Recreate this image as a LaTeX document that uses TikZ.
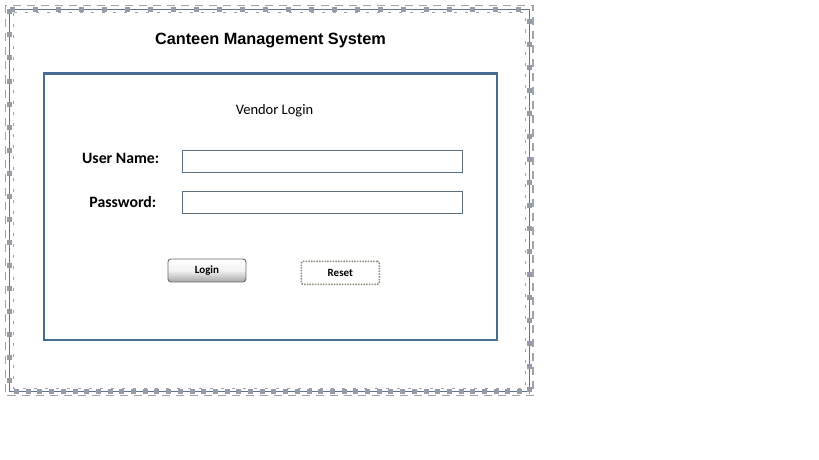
\documentclass[tikz,border=0pt]{standalone}
\usepackage{fontspec}
\setmainfont{Carlito}
\newfontfamily\arialfont{Liberation Sans}
\begin{document}
\begin{tikzpicture}[x=1pt,y=-1pt,
  frameline/.style={draw={rgb,255:red,92;green,117;blue,145},line width=0.8pt},
  framedash/.style={draw={rgb,255:red,160;green,163;blue,170},line width=1.3pt},
  framesq/.style={draw={rgb,255:red,150;green,155;blue,165},line width=5pt},
  panel/.style={draw={rgb,255:red,72;green,108;blue,146},line width=2.6pt},
  field/.style={draw={rgb,255:red,90;green,110;blue,125},line width=0.9pt,fill=white,minimum width=280pt,minimum height=22.5pt,inner sep=0pt},
  lbl/.style={font=\bfseries\fontsize{15.8}{19}\selectfont,anchor=east,inner sep=0pt},
  loginbtn/.style={draw={rgb,255:red,95;green,110;blue,95},line width=0.9pt,rounded corners=3pt,top color=white,bottom color=gray!70,middle color=white!90!gray,minimum width=78pt,minimum height=23pt,inner sep=0pt,font=\bfseries\fontsize{11}{13}\selectfont},
  resetbtn/.style={draw={rgb,255:red,130;green,140;blue,120},line width=1.6pt,dash pattern=on 1.5pt off 1.2pt,rounded corners=2pt,fill=white,minimum width=78pt,minimum height=23pt,inner sep=0pt,font=\bfseries\fontsize{11}{13}\selectfont}
]
\useasboundingbox (0,0) rectangle (819,460);
% outer frame decoration
\draw[framedash,dash pattern=on 8pt off 6pt] (5.5,5.5) rectangle (533,395.5);
\draw[framedash,line width=1pt,dash pattern=on 3pt off 8pt] (13,13) rectangle (525.5,388);
\draw[frameline] (9.5,9.5) rectangle (529,391.5);
\draw[framesq,dash pattern=on 5pt off 18pt] (9.5,9.5) -- (529,9.5) -- (529,391.5);
\draw[framesq,dash pattern=on 5pt off 18pt] (9.5,9.5) -- (9.5,391.5);
\draw[framesq,dash pattern=on 5pt off 6.7pt] (14,391.5) -- (529,391.5);
\node[font=\arialfont\bfseries\fontsize{16.3}{19}\selectfont,inner sep=0pt] (title) at (270.5,41) {Canteen Management System};
% panel
\draw[panel] (44,73.5) rectangle (497,340);
\node[font=\fontsize{14.5}{17}\selectfont,inner sep=0pt] (vl) at (274.5,111) {Vendor Login};
\node[lbl] (ul) at (159.5,158.5) {User Name:};
\node[lbl] (pl) at (156.5,202) {Password:};
\node[field,anchor=north west] (uf) at (181.5,149.5) {};
\node[field,anchor=north west] (pf) at (181.5,190.5) {};
\node[loginbtn,anchor=north west] (login) at (167.5,258.5) {Login};
\node[resetbtn,anchor=north west] (reset) at (300.5,260.5) {Reset};
\end{tikzpicture}
\end{document}
